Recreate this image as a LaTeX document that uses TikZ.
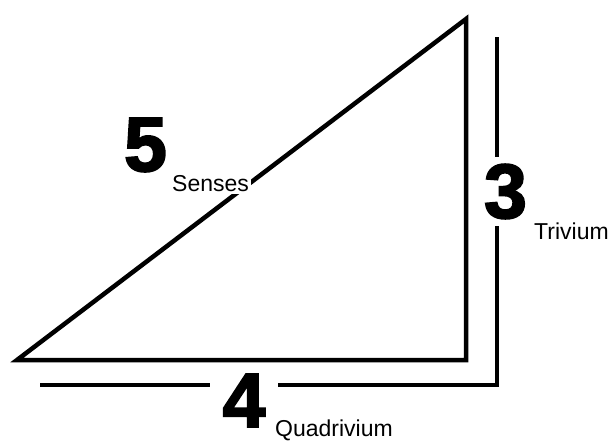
\documentclass[tikz,border=0pt]{standalone}
\usepackage{fontspec}
\setmainfont{Liberation Sans}
\usetikzlibrary{positioning}
\font\digitface="Liberation Sans/B:embolden=2.5" at 77pt

\begin{document}
\begin{tikzpicture}[x=1pt, y=-1pt,
    digit/.style={font=\digitface, fill=white, inner xsep=13pt, inner ysep=7pt},
    tag/.style={font=\fontsize{23}{24}\selectfont, inner sep=2pt, anchor=base west},
    side/.style={line width=4.5pt, line join=miter},
    dim/.style={line width=4pt}]
  \useasboundingbox (0,0) rectangle (608,441);
  % measuring lines
  \coordinate (dimstart) at (40,385);
  \coordinate (dimcorner) at (497,385);
  \coordinate (dimend) at (497,37);
  \draw[dim] (dimstart) -- (dimcorner) -- (dimend);
  \node[digit] (four) at (244,400.5) {4};
  \node[digit] (three) at (505.5,191.5) {3};
  % triangle
  \coordinate (left) at (17,360);
  \coordinate (right) at (466,360);
  \coordinate (top) at (466,19);
  \draw[side] (left) -- (right) -- (top) -- cycle;
  \node[digit, fill=none] (five) at (145.5,145) {5};
  \node[tag, fill=white] (senses) at (170,192) {Senses};
  \node[tag] (trivium) at (532,239) {Trivium};
  \node[tag] (quadrivium) at (273,436) {Quadrivium};
\end{tikzpicture}
\end{document}
